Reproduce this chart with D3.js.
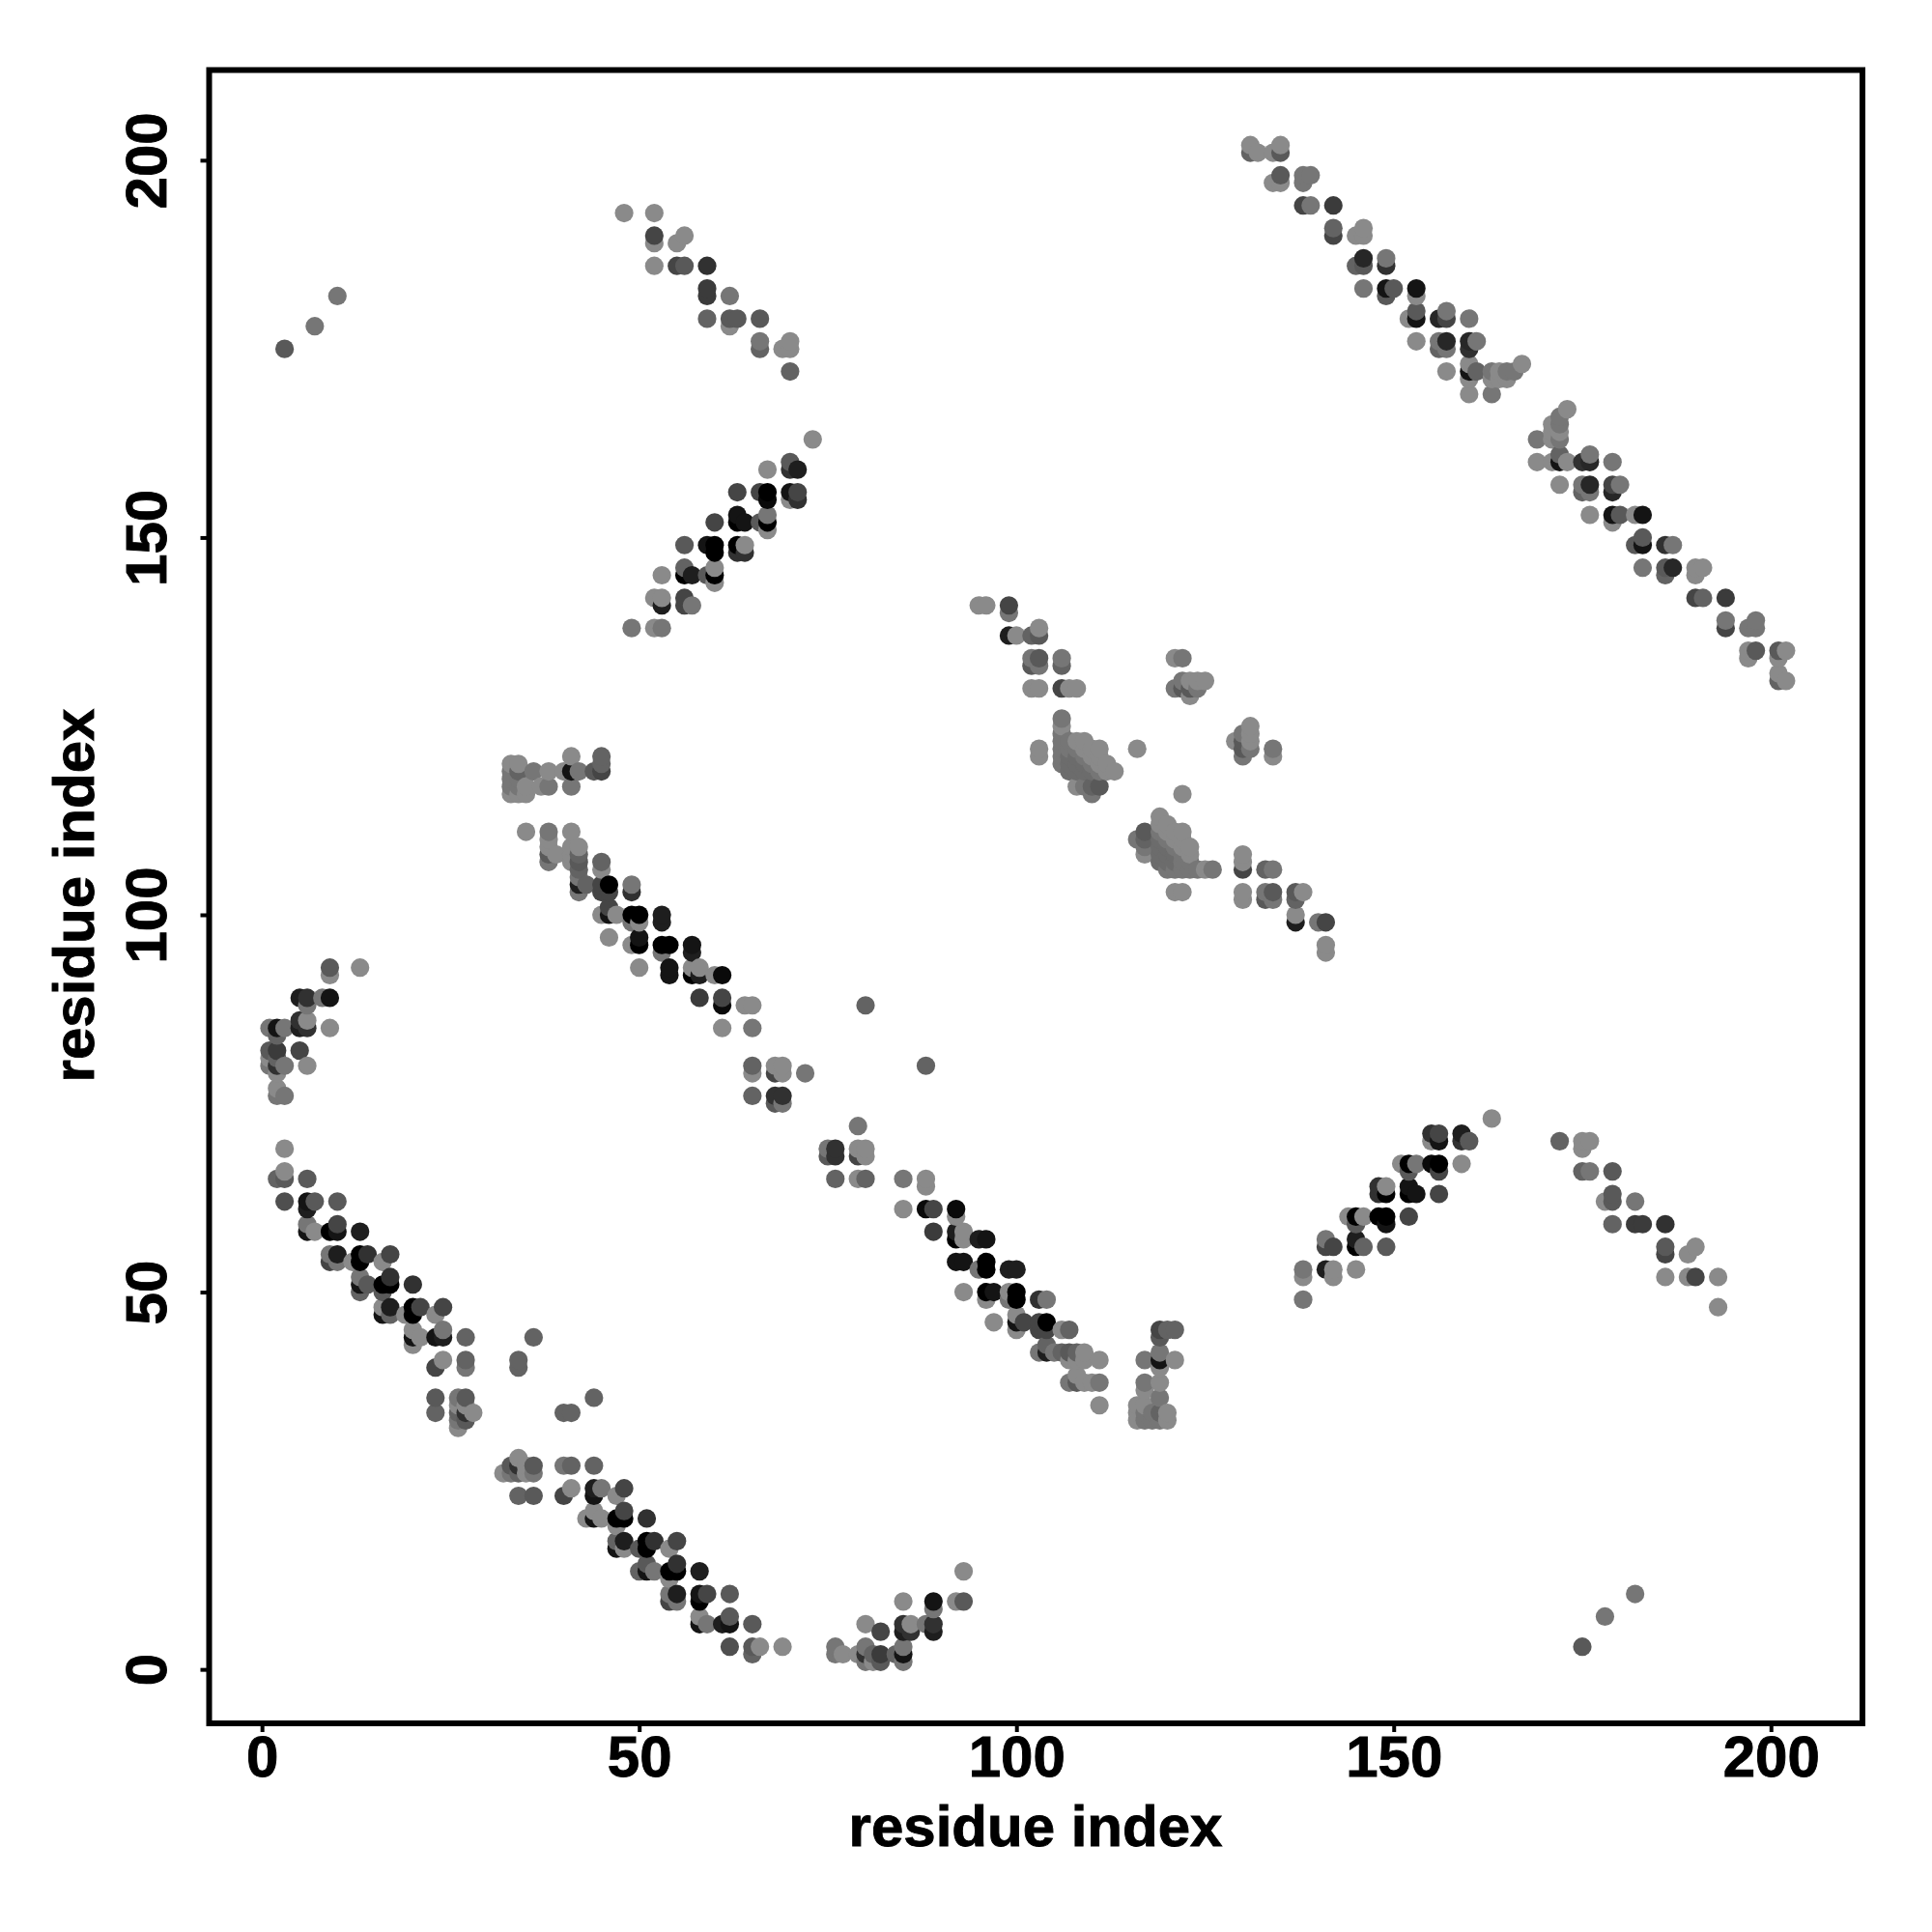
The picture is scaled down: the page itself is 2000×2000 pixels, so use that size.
<!DOCTYPE html>
<html><head><meta charset="utf-8">
<script src="https://cdn.jsdelivr.net/npm/d3@7"></script>
<style>html,body{margin:0;padding:0;background:#fff}svg{display:block}</style>
</head><body><svg id="c" width="2000" height="2000"></svg>
<script>
const axisTicks = [0, 50, 100, 150, 200];
const xTitle = "residue index";
const yTitle = "residue index";
// Contact map: each entry is [residue i, residue j, contact score 0-14], i < j. The map is symmetric.
const farContacts = [[3,175,5],[7,178,2],[10,182,2]];
const strandA = [[3,69,0],[3,66,0],[2,65,4],[3,65,5],[6,65,5],[3,62,6],[6,62,12],[7,62,5],[6,61,11],[10,62,5],[6,59,2],[7,58,0],[6,58,12],[9,58,14],[10,59,7],[10,58,12],[13,58,11],[9,55,2],[10,55,11],[13,55,14],[14,55,9],[17,55,7],[9,54,7],[10,54,2],[12,54,0],[13,54,14],[16,54,0],[17,52,9],[13,52,2],[14,51,5],[13,51,12],[16,51,14],[17,51,14],[20,51,9],[13,50,4],[16,50,5],[16,48,0],[17,48,11],[20,48,14],[21,48,7],[24,48,7],[16,47,12],[17,47,4],[19,47,0],[20,47,14],[23,47,0],[20,45,0],[21,44,0],[20,44,12],[23,44,12],[24,45,2],[24,44,11],[27,44,4],[20,43,0],[24,41,0],[23,40,7],[27,41,4],[27,40,2]];
const turnA = [[34,41,4],[34,40,4],[36,44,4],[23,36,5],[23,34,4],[26,36,2],[27,36,5],[26,35,0],[26,34,4],[27,33,5],[26,33,2],[28,34,0],[27,34,9],[26,32,0],[27,35,0]];
const strandB = [[3,76,2],[2,76,2],[2,77,0],[2,79,0],[3,80,2],[2,80,9],[1,80,2],[2,81,4],[1,81,0],[2,82,8],[1,82,5],[2,84,4],[3,85,2],[2,85,12],[1,85,2],[6,80,0],[5,82,7],[6,85,9],[6,86,0],[5,85,11],[5,86,9],[6,88,2],[6,89,9],[5,89,11],[9,85,0],[9,89,12],[8,89,2],[9,92,0],[9,93,5],[13,93,0]];
const groupC = [[33,120,0],[34,120,0],[33,119,2],[34,119,4],[33,118,2],[34,118,2],[33,117,2],[33,116,0],[34,117,2],[34,116,0],[35,117,0],[35,116,0],[36,119,2],[37,117,0],[38,119,0],[38,117,2],[40,119,0],[41,121,0],[41,119,12],[42,119,2],[41,117,2],[44,119,5],[45,121,4],[45,120,4],[45,119,7]];
const strandC = [[35,111,0],[38,111,2],[41,111,0],[38,110,0],[38,109,0],[38,108,5],[39,108,0],[38,107,2],[41,109,0],[42,109,0],[41,108,0],[42,108,4],[41,107,0],[42,107,5],[42,106,4],[42,105,2],[45,107,4],[45,106,0],[42,104,11],[43,104,4],[42,103,2],[45,104,7],[46,104,14],[45,103,7],[46,103,7],[49,104,2],[49,103,9],[46,101,7],[45,100,0],[46,100,12],[47,100,0],[49,100,14],[50,100,14],[49,99,2],[50,99,0],[53,100,11],[53,99,11],[46,97,0],[50,97,12],[49,96,0],[50,96,14],[53,96,14],[54,96,14],[53,95,2],[57,96,12],[57,95,11],[50,93,0],[54,93,12],[54,92,12],[57,93,0],[58,93,0],[57,92,14],[58,92,11],[60,92,0],[61,92,13],[58,89,8],[61,89,7],[61,88,13],[64,88,0],[65,88,0],[61,85,0],[65,85,2],[65,80,4],[65,79,0],[68,80,0],[69,80,0],[68,79,7],[69,79,0],[72,79,2],[65,76,4],[68,76,9],[69,76,9],[68,75,5],[69,75,2],[80,88,4]];
const strandD = [[48,193,0],[52,193,0],[52,190,7],[52,189,0],[55,189,0],[56,190,0],[52,186,0],[55,186,7],[56,186,5],[59,186,9],[59,183,8],[59,182,8],[62,182,2],[59,179,4],[62,179,5],[63,179,5],[62,178,0],[66,179,5],[66,176,2],[66,175,4],[69,175,0],[70,176,0],[70,175,0],[70,172,4]];
const strandE = [[73,163,0],[67,159,0],[70,160,5],[70,159,9],[71,159,11],[63,156,7],[66,156,7],[67,156,14],[67,155,13],[70,156,12],[71,156,7],[70,155,0],[71,155,9],[63,153,12],[60,152,7],[63,152,14],[64,152,12],[66,152,5],[67,153,2],[67,152,14],[67,151,0],[56,149,5],[59,149,12],[60,149,14],[60,148,14],[63,149,14],[64,149,0],[63,148,9],[64,148,9],[56,146,4],[56,145,14],[57,145,11],[59,145,5],[60,146,0],[60,145,14],[60,144,0],[53,145,0],[52,142,0],[53,142,0],[53,141,11],[56,142,7],[56,141,7],[57,141,2],[49,138,2],[52,138,0],[53,138,2]];
const strandF = [[95,141,0],[96,141,0],[99,141,7],[99,140,2],[99,137,11],[100,137,0],[102,137,4],[103,137,5],[103,138,0],[102,134,2],[103,134,5],[102,133,5],[103,133,2],[106,134,2],[106,133,4],[102,130,0],[103,130,0],[106,130,7],[107,130,0],[108,130,0],[103,122,0],[103,121,0],[116,122,0]];
const groupG = [[121,134,0],[122,134,2],[121,130,2],[122,131,2],[122,130,5],[123,131,0],[123,130,5],[123,129,0],[124,131,0],[124,130,2],[125,131,0]];
const coreH = [[106,126,2],[106,125,0],[106,124,2],[106,123,2],[106,122,2],[106,121,2],[106,120,2],[107,123,2],[107,122,2],[107,121,3],[107,120,3],[107,119,3],[108,123,0],[108,122,2],[108,121,3],[108,120,3],[108,119,3],[109,123,0],[109,122,0],[109,121,2],[109,120,3],[109,119,3],[110,122,0],[110,121,0],[110,120,2],[110,119,3],[111,122,0],[111,121,0],[111,120,0],[111,119,2],[112,120,0],[112,119,0],[113,119,0],[108,117,0],[109,117,2],[110,117,4],[111,117,5],[110,116,2]];
const strandJ = [[131,202,0],[131,201,4],[132,201,0],[134,201,0],[135,202,0],[135,201,5],[135,198,5],[134,197,0],[135,197,0],[138,198,2],[139,198,2],[138,197,2],[138,194,7],[139,194,2],[142,194,8],[142,191,4],[142,190,7],[145,190,0],[146,191,0],[146,190,0],[146,187,10],[145,186,4],[146,186,5],[149,187,2],[149,186,9],[146,183,2],[149,183,12],[150,183,5],[149,182,5],[153,183,12],[153,182,0],[153,180,5],[152,179,0],[153,179,12],[156,179,10],[157,180,2],[157,179,7],[160,179,2],[153,176,0],[156,176,2],[157,176,10],[156,175,4],[157,175,2],[160,176,10],[161,176,2],[160,175,9],[157,172,0],[160,173,0],[160,172,12],[161,172,4],[160,171,0],[160,169,0],[163,169,2],[163,172,2],[164,172,0],[163,171,0],[164,171,0],[165,172,2],[165,171,0],[166,172,2],[167,173,0]];

const halfMap = [].concat(farContacts, strandA, turnA, strandB, groupC, strandC, strandD, strandE, strandF, groupG, coreH, strandJ);
const contacts = [];
halfMap.forEach(([i, j, s]) => {
  contacts.push({a: i, b: j, s});
  contacts.push({a: j, b: i, s});
});
contacts.sort((p, q) => d3.ascending(p.a, q.a) || d3.ascending(p.b, q.b));

const svg = d3.select("#c");
const frame = {l: 216.5, r: 1928, t: 72.5, b: 1784};
const x = d3.scaleLinear().domain([-7, 212.13]).range([frame.l, frame.r]);
const y = d3.scaleLinear().domain([-7.15, 211.95]).range([frame.b, frame.t]);
const grey = d3.scaleLinear().domain([0, 14]).range([138, 0]);

svg.append("g").selectAll("circle").data(contacts).join("circle")
  .attr("cx", d => x(d.a)).attr("cy", d => y(d.b)).attr("r", 9.6)
  .attr("fill", d => { const g = Math.round(grey(d.s)); return `rgb(${g},${g},${g})`; });

svg.append("rect").attr("x", frame.l).attr("y", frame.t)
  .attr("width", frame.r - frame.l).attr("height", frame.b - frame.t)
  .attr("fill", "none").attr("stroke", "#000").attr("stroke-width", 6);

const font = "'Liberation Sans', Arial, sans-serif";
const textStyle = sel => sel.style("font", `bold 60px ${font}`).attr("fill", "#000")
  .attr("stroke", "#000").attr("stroke-width", 0.9).attr("text-anchor", "middle");

const gx = svg.append("g").attr("transform", `translate(0,${frame.b})`)
  .call(d3.axisBottom(x).tickValues(axisTicks).tickSize(9).tickPadding(0).tickFormat(d3.format("d")));
gx.select(".domain").remove();
gx.selectAll("line").attr("stroke", "#000").attr("stroke-width", 4);
gx.selectAll("text").attr("y", 55).attr("dy", 0).call(textStyle);

const gy = svg.append("g").attr("transform", `translate(${frame.l},0)`)
  .call(d3.axisLeft(y).tickValues(axisTicks).tickSize(9).tickPadding(0).tickFormat(d3.format("d")));
gy.select(".domain").remove();
gy.selectAll("line").attr("stroke", "#000").attr("stroke-width", 4);
gy.selectAll("text").attr("x", 0).attr("y", 0).attr("dy", 0).call(textStyle)
  .attr("transform", "translate(-45,0) rotate(-90)");

svg.append("text").attr("x", 1072).attr("y", 1911).call(textStyle).text(xTitle);
svg.append("text").attr("transform", "translate(97,927) rotate(-90)").call(textStyle).text(yTitle);
</script></body></html>
